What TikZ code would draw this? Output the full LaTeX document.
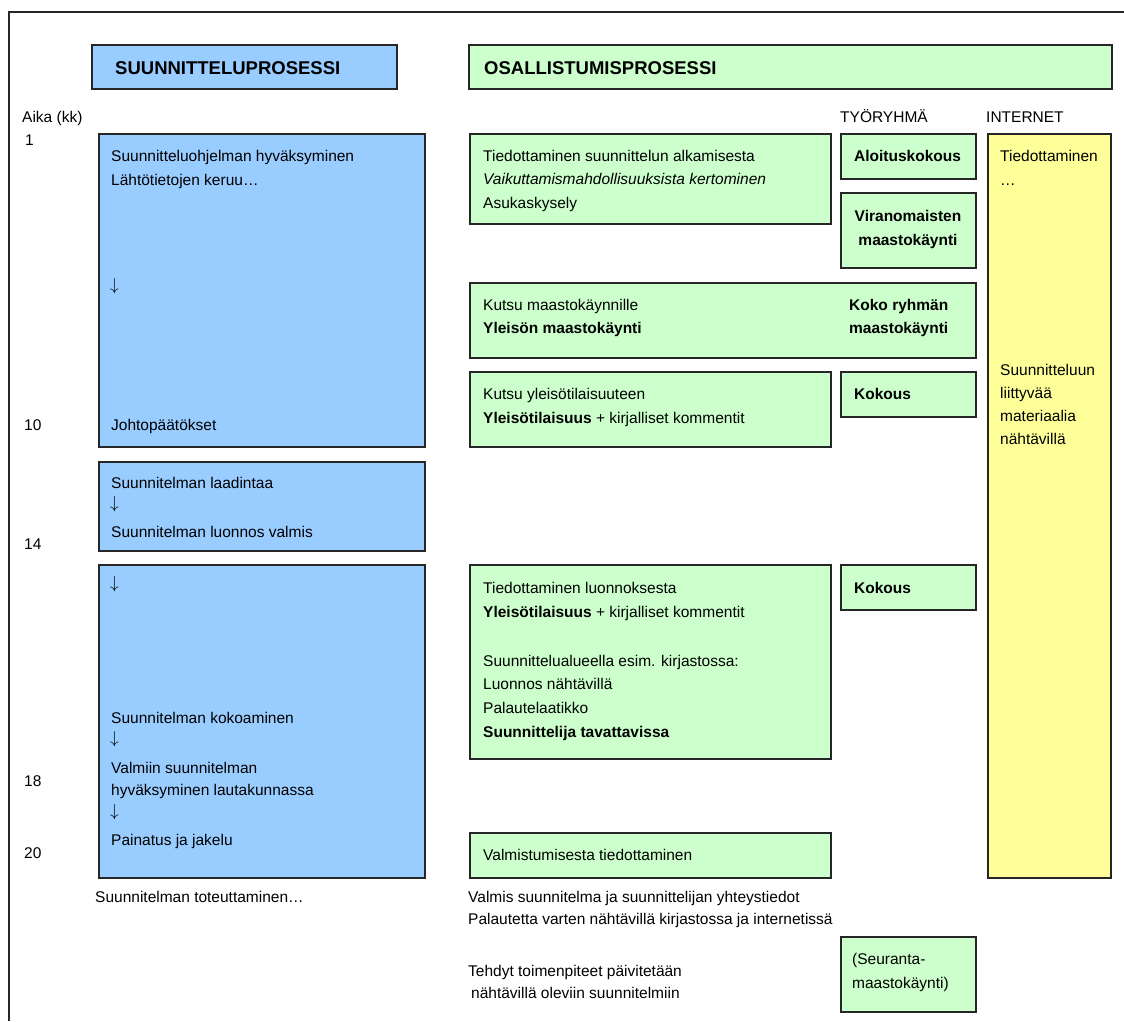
\documentclass[tikz,border=0pt]{standalone}
\usepackage{fontspec}
\setmainfont{Liberation Sans}
\definecolor{boxblue}{HTML}{99CCFF}
\definecolor{boxgreen}{HTML}{CCFFCC}
\definecolor{boxyellow}{HTML}{FFFF99}
\definecolor{edge}{HTML}{262626}
\newcommand{\darr}{{\fontsize{18}{18}\selectfont$\downarrow$}}
\begin{document}
\begin{tikzpicture}[x=1pt,y=-1pt,
  box/.style={draw=edge, line width=1.4pt, anchor=north west, inner sep=0pt, outer sep=0pt},
  bbox/.style={box, fill=boxblue},
  gbox/.style={box, fill=boxgreen},
  ybox/.style={box, fill=boxyellow},
  txt/.style={anchor=base west, inner sep=0pt, font=\fontsize{15.5}{18}\selectfont},
  btxt/.style={txt, font=\fontsize{15.5}{18}\selectfont\bfseries},
  ctxt/.style={anchor=base, inner sep=0pt, font=\fontsize{15.5}{18}\selectfont\bfseries},
  htxt/.style={anchor=base west, inner sep=0pt, font=\fontsize{18.5}{20}\selectfont\bfseries}]
\useasboundingbox (0,0) rectangle (1124,1021);
\fill[white] (0,0) rectangle (1124,1021);
% outer frame
\coordinate (fr1) at (1124,12);
\coordinate (fr2) at (9,12);
\coordinate (fr3) at (9,1021);
\draw[line width=2pt, edge] (fr1) -- (fr2) -- (fr3);

% headers
\node[bbox, minimum width=305pt, minimum height=44pt] (hs) at (92,45) {};
\node[htxt] (hst) at (115,74) {SUUNNITTELUPROSESSI};
\node[gbox, minimum width=643pt, minimum height=44pt] (ho) at (469,45) {};
\node[htxt] (hot) at (484,74) {OSALLISTUMISPROSESSI};

\node[txt] (aika) at (22,122) {Aika (kk)};
\node[txt] (tyo) at (840,122) {TYÖRYHMÄ};
\node[txt] (inet) at (986,122) {INTERNET};

% time labels
\node[txt] (m1) at (25,145) {1};
\node[txt] (m10) at (24,430) {10};
\node[txt] (m14) at (24,549) {14};
\node[txt] (m18) at (24,786) {18};
\node[txt] (m20) at (24,858) {20};

% yellow internet column
\node[ybox, minimum width=123pt, minimum height=744pt] (yb) at (988,134) {};
\node[txt] (y1) at (1000,161) {Tiedottaminen};
\node[txt] (y2) at (1000,185) {\dots};
\node[txt] (y3) at (1000,375) {Suunnitteluun};
\node[txt] (y4) at (1000,398) {liittyvää};
\node[txt] (y5) at (1000,421) {materiaalia};
\node[txt] (y6) at (1000,444) {nähtävillä};

% blue planning boxes
\node[bbox, minimum width=326pt, minimum height=313pt] (b1) at (99,134) {};
\node[txt] (b1a) at (111,161) {Suunnitteluohjelman hyväksyminen};
\node[txt] (b1c) at (110,290.5) {\darr};
\node[txt] (b1b) at (111,185) {Lähtötietojen keruu\dots};
\node[txt] (b1d) at (111,430) {Johtopäätökset};

\node[bbox, minimum width=326pt, minimum height=89pt] (b2) at (99,462) {};
\node[txt] (b2a) at (111,488) {Suunnitelman laadintaa};
\node[txt] (b2b) at (110,508.5) {\darr};
\node[txt] (b2c) at (111,537) {Suunnitelman luonnos valmis};

\node[bbox, minimum width=326pt, minimum height=313pt] (b3) at (99,565) {};
\node[txt] (b3a) at (110,588.5) {\darr};
\node[txt] (b3b) at (111,723) {Suunnitelman kokoaminen};
\node[txt] (b3c) at (110,743) {\darr};
\node[txt] (b3d) at (111,773) {Valmiin suunnitelman};
\node[txt] (b3e) at (111,795) {hyväksyminen lautakunnassa};
\node[txt] (b3f) at (110,816) {\darr};
\node[txt] (b3g) at (111,845) {Painatus ja jakelu};

% green participation boxes
\node[gbox, minimum width=361pt, minimum height=90pt] (g1) at (470,134) {};
\node[txt] (g1a) at (483,161) {Tiedottaminen suunnittelun alkamisesta};
\node[txt] (g1b) at (483,184) {\itshape Vaikuttamismahdollisuuksista kertominen};
\node[txt] (g1c) at (483,208) {Asukaskysely};

\node[gbox, minimum width=135pt, minimum height=45pt] (w1) at (841,134) {};
\node[btxt] (w1a) at (854,161) {Aloituskokous};

\node[gbox, minimum width=135pt, minimum height=75pt] (w2) at (841,193) {};
\node[ctxt] (w2a) at (908,221) {Viranomaisten};
\node[ctxt] (w2b) at (908,245) {maastokäynti};

\node[gbox, minimum width=506pt, minimum height=75pt] (g2) at (470,283) {};
\node[txt] (g2a) at (483,310) {Kutsu maastokäynnille};
\node[btxt] (g2b) at (483,333) {Yleisön maastokäynti};
\node[btxt] (g2c) at (849,310) {Koko ryhmän};
\node[btxt] (g2d) at (849,333) {maastokäynti};

\node[gbox, minimum width=361pt, minimum height=75pt] (g3) at (470,372) {};
\node[txt] (g3a) at (483,399) {Kutsu yleisötilaisuuteen};
\node[txt] (g3b) at (483,423) {\textbf{Yleisötilaisuus} + kirjalliset kommentit};

\node[gbox, minimum width=135pt, minimum height=45pt] (w3) at (841,372) {};
\node[btxt] (w3a) at (854,399) {Kokous};

\node[gbox, minimum width=361pt, minimum height=194pt] (g4) at (470,565) {};
\node[txt] (g4a) at (483,593) {Tiedottaminen luonnoksesta};
\node[txt] (g4b) at (483,617) {\textbf{Yleisötilaisuus} + kirjalliset kommentit};
\node[txt] (g4c) at (483,666) {Suunnittelualueella esim. kirjastossa:};
\node[txt] (g4d) at (483,689) {Luonnos nähtävillä};
\node[txt] (g4e) at (483,713) {Palautelaatikko};
\node[btxt] (g4f) at (483,737) {Suunnittelija tavattavissa};

\node[gbox, minimum width=135pt, minimum height=45pt] (w4) at (841,565) {};
\node[btxt] (w4a) at (854,593) {Kokous};

\node[gbox, minimum width=361pt, minimum height=45pt] (g5) at (470,833) {};
\node[txt] (g5a) at (483,860) {Valmistumisesta tiedottaminen};

% below
\node[txt] (s1) at (95,902) {Suunnitelman toteuttaminen\dots};
\node[txt] (s2) at (468,902) {Valmis suunnitelma ja suunnittelijan yhteystiedot};
\node[txt] (s3) at (468,924) {Palautetta varten nähtävillä kirjastossa ja internetissä};
\node[txt] (s4) at (468,976) {Tehdyt toimenpiteet päivitetään};
\node[txt] (s5) at (471,998) {nähtävillä oleviin suunnitelmiin};

\node[gbox, minimum width=135pt, minimum height=75pt] (w5) at (841,937) {};
\node[txt] (w5a) at (852,964) {(Seuranta-};
\node[txt] (w5b) at (852,988) {maastokäynti)};
\end{tikzpicture}
\end{document}
